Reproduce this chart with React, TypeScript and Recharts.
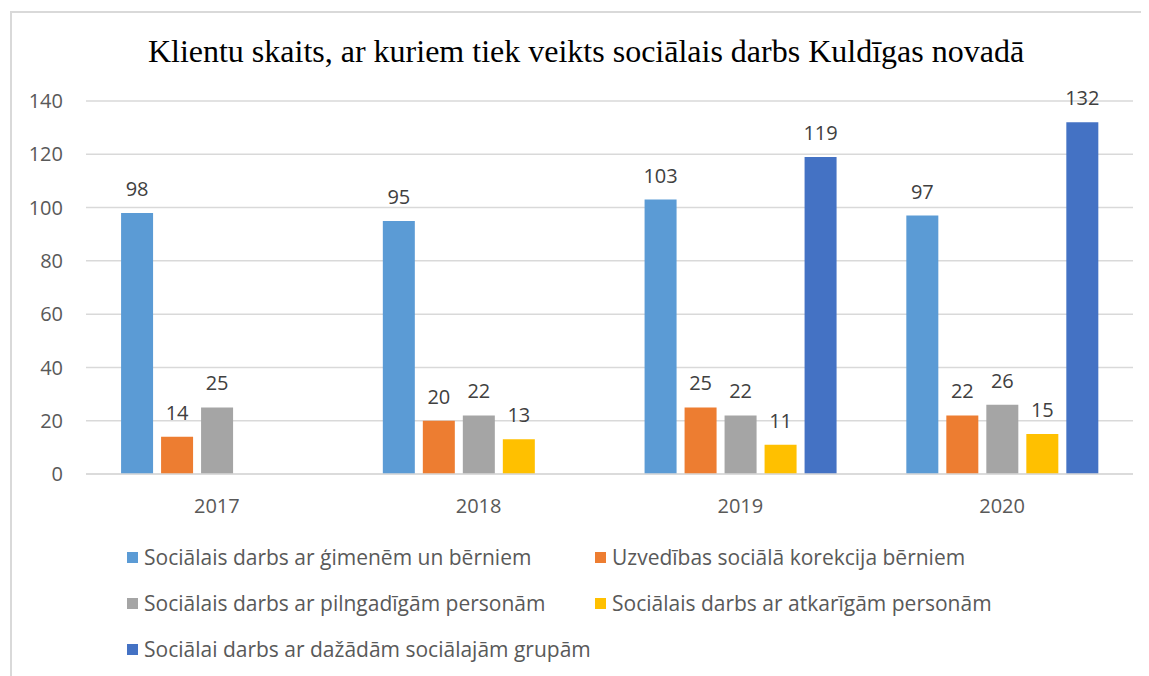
import React from 'react';
import { BarChart, Bar, XAxis, YAxis, CartesianGrid, Legend, LabelList } from 'recharts';

const years = ['2017', '2018', '2019', '2020'];
const gimenes = [98, 95, 103, 97];
const korekcija = [14, 20, 25, 22];
const pilngadigie = [25, 22, 22, 26];
const atkarigie = [null, 13, 11, 15];
const grupas = [null, null, 119, 132];
const yTicks = [0, 20, 40, 60, 80, 100, 120, 140];

const series = [
  { key: 'gimenes', name: 'Sociālais darbs ar ģimenēm un bērniem', color: '#5B9BD5' },
  { key: 'korekcija', name: 'Uzvedības sociālā korekcija bērniem', color: '#ED7D31' },
  { key: 'pilngadigie', name: 'Sociālais darbs ar pilngadīgām personām', color: '#A5A5A5' },
  { key: 'atkarigie', name: 'Sociālais darbs ar atkarīgām personām', color: '#FFC000' },
  { key: 'grupas', name: 'Sociālai darbs ar dažādām sociālajām grupām', color: '#4472C4' },
];

const data = years.map((year, i) => ({
  year,
  gimenes: gimenes[i],
  korekcija: korekcija[i],
  pilngadigie: pilngadigie[i],
  atkarigie: atkarigie[i],
  grupas: grupas[i],
}));

const FONT = '"Open Sans", Lato, sans-serif';

function LegendBox() {
  return (
    <div
      style={{
        display: 'grid',
        gridTemplateColumns: '468px 480px',
        rowGap: 22,
        paddingLeft: 119,
        fontFamily: FONT,
        fontSize: 21,
        color: '#595959',
        lineHeight: '24px',
        height: 116,
        boxSizing: 'border-box',
      }}
    >
      {series.map((s) => (
        <div key={s.key} style={{ display: 'flex', alignItems: 'center', whiteSpace: 'nowrap' }}>
          <span style={{ display: 'inline-block', width: 11, height: 11, background: s.color, marginRight: 6 }} />
          {s.name}
        </div>
      ))}
    </div>
  );
}

export default function App() {
  return (
    <div style={{ position: 'relative', width: 1141, height: 668 }}>
      <div
        style={{
          position: 'absolute',
          left: 2,
          top: 3,
          width: 1139,
          height: 665,
          borderLeft: '2px solid #d9d9d9',
          borderTop: '2px solid #d9d9d9',
          boxSizing: 'border-box',
        }}
      />
      <div
        style={{
          position: 'absolute',
          left: 0,
          top: 25,
          width: 1156,
          textAlign: 'center',
          fontFamily: '"Liberation Serif", "Times New Roman", serif',
          fontSize: 32,
          color: '#000',
        }}
      >
        Klientu skaits, ar kuriem tiek veikts sociālais darbs Kuldīgas novadā
      </div>
      <BarChart
        width={1141}
        height={668}
        data={data}
        margin={{ top: 93, right: 16, bottom: 36, left: 0 }}
        barCategoryGap="13.4%"
        barGap={8}
        style={{ position: 'absolute', left: 0, top: 0 }}
      >
        <CartesianGrid vertical={false} stroke="#d9d9d9" strokeWidth={1.5} />
        <XAxis
          dataKey="year"
          axisLine={{ stroke: '#d9d9d9', strokeWidth: 1.5 }}
          tickLine={false}
          tickSize={0}
          tickMargin={25}
          height={50}
          tick={{ fill: '#595959', fontSize: 20, fontFamily: FONT }}
        />
        <YAxis
          domain={[0, 140]}
          ticks={yTicks}
          axisLine={false}
          tickLine={false}
          tickSize={0}
          tickMargin={23}
          width={78}
          tick={{ fill: '#595959', fontSize: 20, fontFamily: FONT }}
        />
        <Legend
          content={<LegendBox />}
          wrapperStyle={{ position: 'absolute', top: 537, left: 0, width: 1141 }}
        />
        {series.map((s) => (
          <Bar key={s.key} dataKey={s.key} name={s.name} fill={s.color} isAnimationActive={false}>
            <LabelList
              dataKey={s.key}
              position="top"
              offset={17}
              fill="#404040"
              fontSize={20}
              fontFamily={FONT}
            />
          </Bar>
        ))}
      </BarChart>
    </div>
  );
}
